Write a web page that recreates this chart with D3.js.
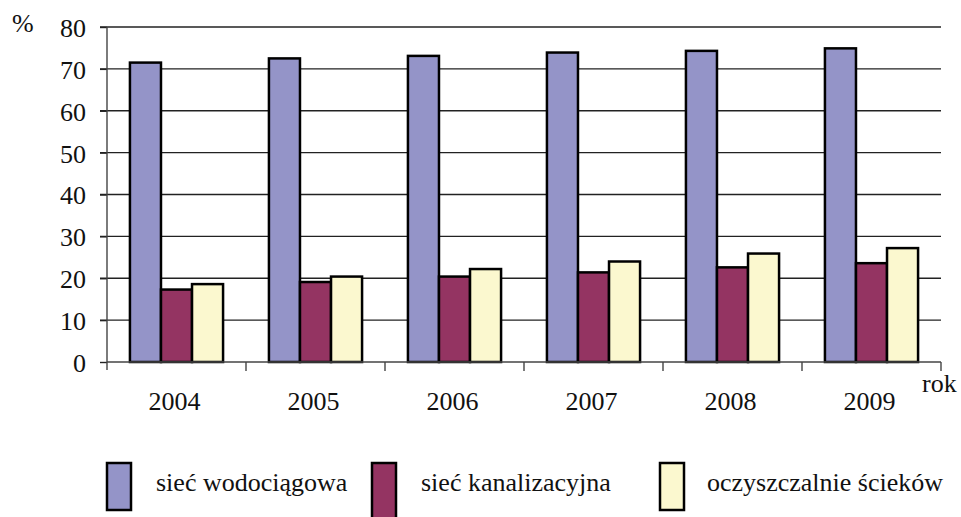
<!DOCTYPE html>
<html>
<head>
<meta charset="utf-8">
<script src="https://cdn.jsdelivr.net/npm/d3@7"></script>
<style>
  body { margin: 0; background: #fff; }
  svg text { font-family: "Liberation Serif", "Times New Roman", serif; fill: #111; }
</style>
</head>
<body>
<div id="chart"></div>
<script>
// data
var years = ['2004', '2005', '2006', '2007', '2008', '2009'];
var seriesNames = ['sieć wodociągowa', 'sieć kanalizacyjna', 'oczyszczalnie ścieków'];
var wodociagowa = [71.5, 72.5, 73.1, 73.9, 74.3, 74.9];
var kanalizacyjna = [17.3, 19.1, 20.4, 21.4, 22.6, 23.6];
var oczyszczalnie = [18.6, 20.4, 22.2, 24.0, 25.9, 27.2];
var yTicks = [0, 10, 20, 30, 40, 50, 60, 70, 80];
var colors = ['#9494c8', '#943462', '#fbf8cf'];

var seriesValues = [wodociagowa, kanalizacyjna, oczyszczalnie];

var width = 961, height = 517;
var svg = d3.select('#chart').append('svg').attr('width', width).attr('height', height);

var x = d3.scaleBand().domain(years).range([107, 941]);
var bw = x.bandwidth();
var xs = d3.scaleBand().domain(d3.range(3)).range([bw * 0.165, bw * 0.835]);
var y = d3.scaleLinear().domain([0, 80]).range([362, 27]);

// gridlines
svg.append('g').selectAll('line')
   .data(yTicks.filter(function (d) { return d > 0; }))
   .enter().append('line')
   .attr('x1', 100).attr('x2', 941)
   .attr('y1', function (d) { return y(d); })
   .attr('y2', function (d) { return y(d); })
   .attr('stroke', '#222').attr('stroke-width', 1.4);

// y axis
var yAxis = svg.append('g').attr('transform', 'translate(107,0)')
   .call(d3.axisLeft(y).tickValues(yTicks).tickSize(7).tickPadding(14));
yAxis.select('.domain').remove();
yAxis.selectAll('line').attr('stroke', '#222').attr('stroke-width', 1.4);
yAxis.selectAll('text').attr('font-size', '26px').attr('font-family', 'Liberation Serif').attr('fill', '#111').attr('dy', '0.36em');
svg.append('line').attr('x1', 107).attr('x2', 107).attr('y1', y(80)).attr('y2', 370)
   .attr('stroke', '#444').attr('stroke-width', 1.4);

// bars
var groups = svg.append('g').selectAll('g')
   .data(years)
   .enter().append('g')
   .attr('transform', function (d) { return 'translate(' + x(d) + ',0)'; });

groups.selectAll('rect')
   .data(function (d, i) { return seriesValues.map(function (s, k) { return { k: k, v: s[i] }; }); })
   .enter().append('rect')
   .attr('x', function (d) { return xs(d.k); })
   .attr('width', xs.bandwidth())
   .attr('y', function (d) { return y(d.v); })
   .attr('height', function (d) { return y(0) - y(d.v); })
   .attr('fill', function (d) { return colors[d.k]; })
   .attr('stroke', '#000').attr('stroke-width', 2.5);

// x axis
svg.append('line').attr('x1', 107).attr('x2', 941).attr('y1', y(0)).attr('y2', y(0))
   .attr('stroke', '#444').attr('stroke-width', 1.4);
svg.append('g').selectAll('line')
   .data(years.slice(1).concat(['end']))
   .enter().append('line')
   .attr('x1', function (d) { return d === 'end' ? 941 : x(d); })
   .attr('x2', function (d) { return d === 'end' ? 941 : x(d); })
   .attr('y1', y(0)).attr('y2', y(0) + 9)
   .attr('stroke', '#444').attr('stroke-width', 1.4);

svg.append('g').selectAll('text')
   .data(years)
   .enter().append('text')
   .attr('x', function (d) { return x(d) + bw / 2 - 2; })
   .attr('y', 410)
   .attr('text-anchor', 'middle')
   .attr('font-size', '26px')
   .text(function (d) { return d; });

svg.append('text').attr('x', 12).attr('y', 32).attr('font-size', '26px').text('%');
svg.append('text').attr('x', 922).attr('y', 392).attr('font-size', '26px').text('rok');

// legend
var legX = [107, 372, 660];
var legend = svg.append('g').selectAll('g')
   .data(seriesNames)
   .enter().append('g')
   .attr('transform', function (d, i) { return 'translate(' + legX[i] + ',0)'; });
legend.append('rect')
   .attr('x', 0).attr('y', 463).attr('width', 24)
   .attr('height', function (d, i) { return i === 1 ? 56 : 47; })
   .attr('fill', function (d, i) { return colors[i]; })
   .attr('stroke', '#000').attr('stroke-width', 2.5);
legend.append('text')
   .attr('x', function (d, i) { return i === 2 ? 47 : 49; })
   .attr('y', 491)
   .attr('font-size', '26px')
   .text(function (d) { return d; });
</script>
</body>
</html>
